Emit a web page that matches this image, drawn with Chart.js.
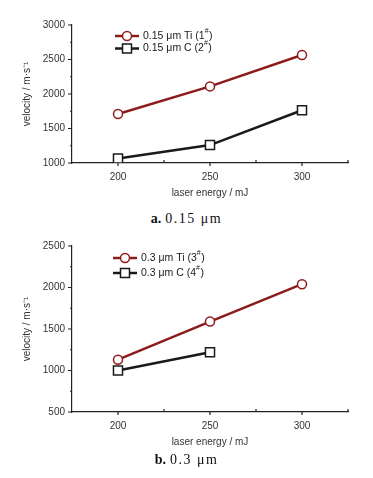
<!DOCTYPE html>
<html>
<head>
<meta charset="utf-8">
<script src="https://cdn.jsdelivr.net/npm/chart.js@4.4.1/dist/chart.umd.min.js"></script>
<style>
body { margin: 0; background: #fff; width: 373px; height: 478px; position: relative; overflow: hidden; }
canvas { position: absolute; left: 0; }
.cap { position: absolute; left: 0; width: 373px; text-align: center; font-family: "Liberation Serif", "DejaVu Serif", serif; font-size: 14px; color: #111; line-height: 16px; }
.cap span { letter-spacing: 1.5px; margin-left: 4px; }
</style>
</head>
<body>
<canvas id="chartA" width="373" height="210" style="top:0"></canvas>
<div class="cap" style="top:211px"><b>a.</b><span>0.15 μm</span></div>
<canvas id="chartB" width="373" height="225" style="top:230px"></canvas>
<div class="cap" style="top:452px"><b>b.</b><span>0.3 μm</span></div>
<script>
// laser energy (mJ) and velocity (m/s)
const energy = [200, 250, 300];
const energyShort = [200, 250];

const tiA = [1710, 2110, 2565];   // 0.15 um Ti (1#)
const cA = [1065, 1260, 1765];    // 0.15 um C (2#)
const tiB = [1130, 1590, 2040];   // 0.3 um Ti (3#)
const cB = [1000, 1220];          // 0.3 um C (4#)

const xTicks = [200, 250, 300];
const xMinor = [225, 275, 325];
const yTicksA = [1000, 1500, 2000, 2500, 3000];
const yMinorA = [1250, 1750, 2250, 2750];
const yTicksB = [500, 1000, 1500, 2000, 2500];
const yMinorB = [750, 1250, 1750, 2250];

const RED = "#8e1b1b";
const INK = "#1a1a1a";
const AXIS = "#222";
const SANS = "'Liberation Sans', Arial, sans-serif";

function pairs(xs, ys) {
    return ys.map((y, i) => ({ x: xs[i], y }));
}

// small tick marks, like the original plot (majors out, x minors in)
const tickMarks = {
    id: "tickMarks",
    beforeDatasetsDraw(chart, args, opts) {
        const { ctx } = chart;
        const x = chart.scales.x, y = chart.scales.y;
        ctx.save();
        ctx.strokeStyle = AXIS;
        ctx.lineWidth = 1.2;
        ctx.beginPath();
        for (const v of xTicks) {
            const px = x.getPixelForValue(v);
            ctx.moveTo(px, y.bottom); ctx.lineTo(px, y.bottom + 3);
        }
        for (const v of xMinor) {
            const px = x.getPixelForValue(v);
            ctx.moveTo(px, y.bottom); ctx.lineTo(px, y.bottom - 3);
        }
        for (const v of opts.major) {
            const py = y.getPixelForValue(v);
            ctx.moveTo(x.left, py); ctx.lineTo(x.left - 4, py);
        }
        for (const v of opts.minor) {
            const py = y.getPixelForValue(v);
            ctx.moveTo(x.left, py); ctx.lineTo(x.left - 2, py);
        }
        ctx.stroke();
        ctx.restore();
    }
};

// legend with line + marker + superscript "#"
const lineLegend = {
    id: "lineLegend",
    afterDraw(chart, args, opts) {
        const { ctx } = chart;
        ctx.save();
        opts.items.forEach((it, i) => {
            const y = opts.y + i * opts.gap;
            const x0 = opts.x;
            ctx.strokeStyle = it.color;
            ctx.lineWidth = 2.5;
            ctx.beginPath(); ctx.moveTo(x0, y); ctx.lineTo(x0 + 24, y); ctx.stroke();
            ctx.fillStyle = "#fff";
            ctx.lineWidth = 1.5;
            ctx.beginPath();
            if (it.style === "circle") ctx.arc(x0 + 12, y, 4.5, 0, Math.PI * 2);
            else ctx.rect(x0 + 7.5, y - 4.5, 9, 9);
            ctx.fill(); ctx.stroke();

            ctx.fillStyle = INK;
            ctx.textBaseline = "middle";
            ctx.font = "10.5px " + SANS;
            let tx = x0 + 28;
            ctx.fillText(it.label, tx, y);
            tx += ctx.measureText(it.label).width;
            ctx.font = "7px " + SANS;
            ctx.fillText("#", tx, y - 5);
            tx += ctx.measureText("#").width + 0.5;
            ctx.font = "10.5px " + SANS;
            ctx.fillText(")", tx, y);
        });
        ctx.restore();
    }
};

function makeChart(id, sets, yMin, yMax, yMajor, yMinor, pad, legend) {
    return new Chart(document.getElementById(id), {
        type: "line",
        data: {
            datasets: sets.map(s => ({
                data: s.data,
                borderColor: s.color,
                borderWidth: 2.5,
                pointStyle: s.style,
                pointRadius: s.style === "circle" ? 4.5 : 6.4,
                pointBorderWidth: 1.5,
                pointBackgroundColor: "#fff",
                pointBorderColor: s.color,
                tension: 0
            }))
        },
        options: {
            responsive: false,
            animation: false,
            events: [],
            layout: { padding: pad },
            plugins: {
                legend: { display: false },
                tooltip: { enabled: false },
                tickMarks: { major: yMajor, minor: yMinor },
                lineLegend: legend
            },
            scales: {
                x: {
                    type: "linear",
                    min: 175,
                    max: 325,
                    afterBuildTicks: s => { s.ticks = xTicks.map(v => ({ value: v })); },
                    afterFit: s => { s.height = 40; },
                    grid: { display: false, drawTicks: false },
                    border: { display: true, color: AXIS, width: 1.2 },
                    ticks: { color: "#333", font: { family: SANS, size: 10 }, padding: 8, maxRotation: 0, callback: v => String(v) },
                    title: { display: true, text: "laser energy / mJ", color: "#333", font: { family: SANS, size: 10 }, padding: { top: 0, bottom: 4 } }
                },
                y: {
                    min: yMin,
                    max: yMax,
                    afterBuildTicks: s => { s.ticks = yMajor.map(v => ({ value: v })); },
                    afterFit: s => { s.width = 72; },
                    grid: { display: false, drawTicks: false },
                    border: { display: true, color: AXIS, width: 1.2 },
                    ticks: { color: "#333", font: { family: SANS, size: 10 }, padding: 7, callback: v => String(v) },
                    title: { display: true, text: "velocity / m·s⁻¹", color: "#333", font: { family: SANS, size: 10 }, padding: { top: 21, bottom: 0 } }
                }
            }
        },
        plugins: [tickMarks, lineLegend]
    });
}

makeChart("chartA", [
    { data: pairs(energy, tiA), color: RED, style: "circle" },
    { data: pairs(energy, cA), color: INK, style: "rect" }
], 1000, 3000, yTicksA, yMinorA, { left: 0, top: 25, right: 25, bottom: 7 }, {
    x: 115, y: 36, gap: 12.5,
    items: [
        { color: RED, style: "circle", label: "0.15 μm Ti (1" },
        { color: INK, style: "rect", label: "0.15 μm C (2" }
    ]
});

makeChart("chartB", [
    { data: pairs(energy, tiB), color: RED, style: "circle" },
    { data: pairs(energyShort, cB), color: INK, style: "rect" }
], 500, 2500, yTicksB, yMinorB, { left: 0, top: 16, right: 25, bottom: 3 }, {
    x: 113, y: 28, gap: 15,
    items: [
        { color: RED, style: "circle", label: "0.3 μm Ti (3" },
        { color: INK, style: "rect", label: "0.3 μm C (4" }
    ]
});
</script>
</body>
</html>
